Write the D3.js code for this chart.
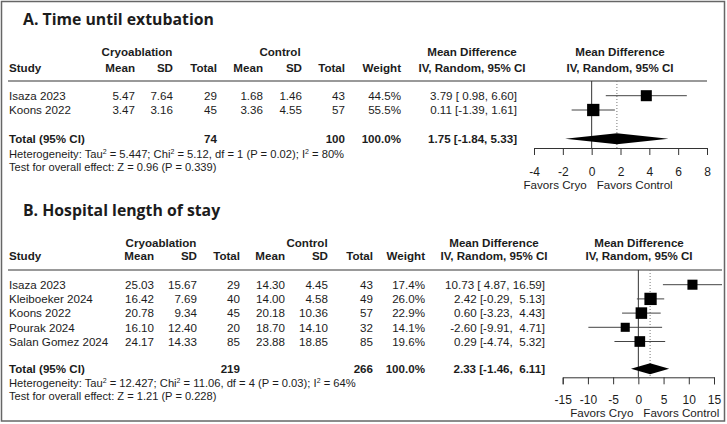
<!DOCTYPE html>
<html>
<head>
<meta charset="utf-8">
<script src="https://cdn.jsdelivr.net/npm/d3@7"></script>
<style>
  body { margin: 0; background: #fff; }
  svg text { font-family: "Liberation Sans", Arial, sans-serif; fill: #1c1c1c; white-space: pre; }
  .title { font-family: "Open Sans", sans-serif; font-weight: 700; }
</style>
</head>
<body>
<svg id="chart" width="727" height="424"></svg>
<script>
// panel A - time until extubation
var studiesA = ["Isaza 2023", "Koons 2022"];
var cryoMeanA = [5.47, 3.47], cryoSdA = [7.64, 3.16], cryoNA = [29, 45];
var ctrlMeanA = [1.68, 3.36], ctrlSdA = [1.46, 4.55], ctrlNA = [43, 57];
var weightA = [44.5, 55.5];
var mdA = [3.79, 0.11], loA = [0.98, -1.39], hiA = [6.60, 1.61];
var totalA = { cryoN: 74, ctrlN: 100, md: 1.75, lo: -1.84, hi: 5.33 };
var hetA = ["Heterogeneity: Tau", " = 5.447; Chi", " = 5.12, df = 1 (P = 0.02); I", " = 80%"];
var testA = "Test for overall effect: Z = 0.96 (P = 0.339)";
var ticksA = [-4, -2, 0, 2, 4, 6, 8];

// panel B - hospital length of stay
var studiesB = ["Isaza 2023", "Kleiboeker 2024", "Koons 2022", "Pourak 2024", "Salan Gomez 2024"];
var cryoMeanB = [25.03, 16.42, 20.78, 16.10, 24.17], cryoSdB = [15.67, 7.69, 9.34, 12.40, 14.33], cryoNB = [29, 40, 45, 20, 85];
var ctrlMeanB = [14.30, 14.00, 20.18, 18.70, 23.88], ctrlSdB = [4.45, 4.58, 10.36, 14.10, 18.85], ctrlNB = [43, 49, 57, 32, 85];
var weightB = [17.4, 26.0, 22.9, 14.1, 19.6];
var mdB = [10.73, 2.42, 0.60, -2.60, 0.29], loB = [4.87, -0.29, -3.23, -9.91, -4.74], hiB = [16.59, 5.13, 4.43, 4.71, 5.32];
var totalB = { cryoN: 219, ctrlN: 266, md: 2.33, lo: -1.46, hi: 6.11 };
var hetB = ["Heterogeneity: Tau", " = 12.427; Chi", " = 11.06, df = 4 (P = 0.03); I", " = 64%"];
var testB = "Test for overall effect: Z = 1.21 (P = 0.228)";
var ticksB = [-15, -10, -5, 0, 5, 10, 15];

var svg = d3.select("#chart");
var FS = 11.6;

// outer frame
svg.append("rect").attr("x", 1.5).attr("y", 1.5).attr("width", 723).attr("height", 419.5)
  .attr("fill", "none").attr("stroke", "#666").attr("stroke-width", 1.5);

function pad(s, w) { while (s.length < w) s = " " + s; return s; }
function ciText(md, lo, hi, wLo, wHi) {
  return md.toFixed(2) + " [" + pad(lo.toFixed(2), wLo) + ", " + pad(hi.toFixed(2), wHi) + "]";
}

function txt(x, y, s, anchor, bold, size) {
  return svg.append("text").attr("x", x).attr("y", y)
    .attr("text-anchor", anchor || "start")
    .attr("font-size", size || FS)
    .attr("font-weight", bold ? "bold" : null)
    .text(s);
}

function drawPanel(p) {
  txt(23, p.titleY, p.title, "start", true, 15.8).attr("class", "title");

  // header
  txt(p.cryoCx, p.h1, "Cryoablation", "middle", true);
  txt(p.ctrlCx, p.h1, "Control", "middle", true);
  txt(p.mdCx, p.h1, "Mean Difference", "middle", true);
  txt(p.plotCx, p.h1, "Mean Difference", "middle", true);
  txt(9, p.h2, "Study", "start", true);
  var hdr = ["Mean", "SD", "Total", "Mean", "SD", "Total", "Weight"];
  hdr.forEach(function(h, i) { txt(p.cols[i], p.h2, h, "end", true); });
  txt(p.mdCx, p.h2, "IV, Random, 95% CI", "middle", true);
  txt(p.plotCx, p.h2, "IV, Random, 95% CI", "middle", true);

  svg.append("line").attr("x1", 8).attr("x2", p.ruleEnd).attr("y1", p.rule).attr("y2", p.rule)
    .attr("stroke", "#777").attr("stroke-width", 1.5);

  var n = p.studies.length;
  var y = d3.scaleLinear().domain([0, 1]).range([p.row0, p.row0 + p.step]);
  var x = d3.scaleLinear().domain(p.domain).range(p.range);

  var wLo = d3.max(p.lo.concat([p.total.lo]), function(v) { return v.toFixed(2).length; });
  var wHi = d3.max(p.hi.concat([p.total.hi]), function(v) { return v.toFixed(2).length; });

  for (var i = 0; i < n; i++) {
    var yy = y(i);
    txt(9, yy, p.studies[i]);
    var vals = [p.cryoMean[i].toFixed(2), p.cryoSd[i].toFixed(2), p.cryoN[i],
                p.ctrlMean[i].toFixed(2), p.ctrlSd[i].toFixed(2), p.ctrlN[i], p.weight[i].toFixed(1) + "%"];
    vals.forEach(function(v, j) { txt(p.cols[j], yy, v, "end"); });
    txt(p.mdRight, yy, ciText(p.md[i], p.lo[i], p.hi[i], wLo, wHi), "end");
  }

  // totals
  txt(9, p.totY, "Total (95% CI)", "start", true);
  txt(p.cols[2], p.totY, p.total.cryoN, "end", true);
  txt(p.cols[5], p.totY, p.total.ctrlN, "end", true);
  txt(p.cols[6], p.totY, "100.0%", "end", true);
  txt(p.mdRight, p.totY, ciText(p.total.md, p.total.lo, p.total.hi, wLo, wHi), "end", true);

  // heterogeneity line with superscript 2s
  var het = txt(9, p.hetY, "", "start", false, 11.2);
  p.het.forEach(function(s, k) {
    het.append("tspan").attr("y", p.hetY).text(s);
    if (k < p.het.length - 1) het.append("tspan").attr("y", p.hetY - 4).attr("font-size", 7).text("2");
  });
  txt(9, p.testY, p.test, "start", false, 11.1);

  // plot: zero line and pooled estimate line
  svg.append("line").attr("x1", x(0)).attr("x2", x(0)).attr("y1", p.rule).attr("y2", p.axisY)
    .attr("stroke", "#333").attr("stroke-width", 1);
  svg.append("line").attr("x1", x(p.total.md)).attr("x2", x(p.total.md)).attr("y1", p.rule).attr("y2", p.axisY)
    .attr("stroke", "#777").attr("stroke-width", 1).attr("stroke-dasharray", "1,2");

  var maxW = d3.max(p.weight);
  var side = function(i) { return 12.3 * Math.sqrt(p.weight[i] / maxW); };
  var g = svg.append("g");
  g.selectAll("line.ci").data(p.md).enter().append("line")
    .attr("x1", function(d, i) { return x(p.lo[i]); })
    .attr("x2", function(d, i) { return Math.min(x(p.hi[i]), 723); })
    .attr("y1", function(d, i) { return y(i) - 4.3; })
    .attr("y2", function(d, i) { return y(i) - 4.3; })
    .attr("stroke", "#444").attr("stroke-width", 1);
  g.selectAll("rect").data(p.md).enter().append("rect")
    .attr("width", function(d, i) { return side(i); })
    .attr("height", function(d, i) { return side(i); })
    .attr("x", function(d, i) { return x(d) - side(i) / 2; })
    .attr("y", function(d, i) { return y(i) - 4.3 - side(i) / 2; })
    .attr("fill", "#000");

  // diamond
  var dy = p.totY - 4.3;
  svg.append("path")
    .attr("d", "M" + x(p.total.lo) + "," + dy + "L" + x(p.total.md) + "," + (dy - 5.5) +
               "L" + x(p.total.hi) + "," + dy + "L" + x(p.total.md) + "," + (dy + 5.5) + "Z")
    .attr("fill", "#000");

  var ax = svg.append("g").attr("transform", "translate(0," + p.axisY + ")")
    .call(d3.axisBottom(x).tickValues(p.ticks).tickSize(7).tickSizeOuter(7).tickPadding(p.tickPad)
      .tickFormat(function(d) { return String(d); }));
  ax.selectAll("path,line").attr("stroke", "#333");
  ax.selectAll("text").attr("font-size", 12).attr("font-family", "Liberation Sans, Arial, sans-serif").attr("fill", "#1c1c1c");
  ax.attr("font-family", null).attr("font-size", null);

  txt(x(0) - 5, p.favY, "Favors Cryo", "end");
  txt(x(0) + 5, p.favY, "Favors Control", "start");
}

drawPanel({
  title: "A. Time until extubation", titleY: 25, h1: 55.5, h2: 72, rule: 81, ruleEnd: 707,
  cryoCx: 137, ctrlCx: 280, mdCx: 472, plotCx: 620,
  cols: [135, 173, 217, 263, 302, 345, 401], mdRight: 517,
  studies: studiesA, cryoMean: cryoMeanA, cryoSd: cryoSdA, cryoN: cryoNA,
  ctrlMean: ctrlMeanA, ctrlSd: ctrlSdA, ctrlN: ctrlNA, weight: weightA,
  md: mdA, lo: loA, hi: hiA, total: totalA, het: hetA, test: testA,
  row0: 100, step: 14.3, totY: 143, hetY: 157.5, testY: 171,
  domain: [-4, 8], range: [534, 707], ticks: ticksA, axisY: 148, tickPad: 12, favY: 188.6
});

drawPanel({
  title: "B. Hospital length of stay", titleY: 216, h1: 247, h2: 259.5, rule: 270, ruleEnd: 722,
  cryoCx: 161, ctrlCx: 307, mdCx: 494, plotCx: 639,
  cols: [154, 197, 240, 285, 328, 373, 425], mdRight: 545,
  studies: studiesB, cryoMean: cryoMeanB, cryoSd: cryoSdB, cryoN: cryoNB,
  ctrlMean: ctrlMeanB, ctrlSd: ctrlSdB, ctrlN: ctrlNB, weight: weightB,
  md: mdB, lo: loB, hi: hiB, total: totalB, het: hetB, test: testB,
  row0: 289, step: 14.2, totY: 373, hetY: 386.5, testY: 400,
  domain: [-15, 15], range: [562.7, 714], ticks: ticksB, axisY: 377.3, tickPad: 11, favY: 417
});
</script>
</body>
</html>
